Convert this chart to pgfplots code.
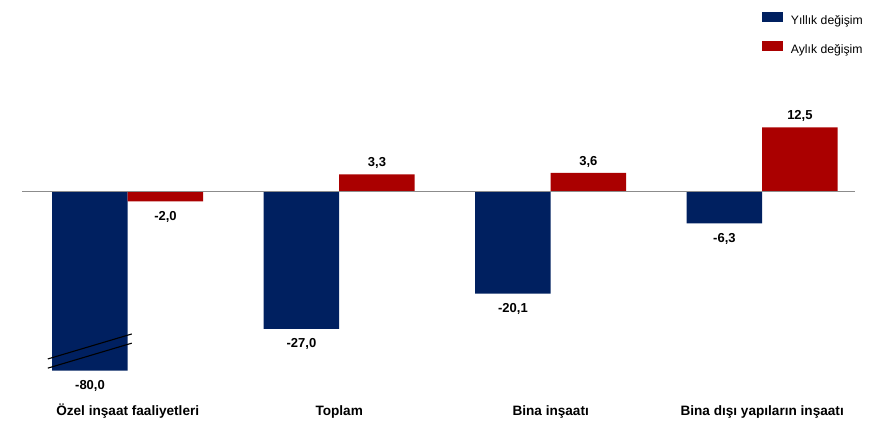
\documentclass[border=0pt]{standalone}
\usepackage{pgfplots}
\usepackage{pgfplotstable}
\pgfplotsset{compat=1.18}
\usepackage{fontspec}
\setmainfont{Liberation Sans}
\definecolor{navyb}{RGB}{0,32,96}
\definecolor{redb}{RGB}{170,0,0}
\pgfplotstableread{
x y
0 -80.0
1 -27.0
2 -20.1
3 -6.3
}\yillik
\pgfplotstableread{
x y
0 -2.0
1 3.3
2 3.6
3 12.5
}\aylik
\begin{document}
\begin{tikzpicture}[x=1pt,y=1pt]
\path[use as bounding box] (0,0) rectangle (876,425);
\begin{axis}[
  at={(22pt,54.3pt)}, anchor=south west,
  scale only axis, width=833pt, height=270.7pt,
  xmin=-0.5, xmax=3.439, ymin=-35.2, ymax=17.88,
  ybar=0pt, bar width=0.357,
  axis line style={draw=none}, major tick length=0pt, ytick=\empty,
  xtick={0,1,2,3},
  xticklabels={Özel inşaat faaliyetleri, Toplam, Bina inşaatı, Bina dışı yapıların inşaatı},
  xticklabel style={font=\fontsize{13.6}{15}\selectfont\bfseries, anchor=base, yshift=-45pt},
  clip=false,
  /pgf/number format/assume math mode=true,
  nodes near coords,
  point meta=\thisrow{y},
  visualization depends on={\thisrow{y} \as \rawy},
  nodes near coords style={font=\fontsize{13}{15}\selectfont\bfseries,
     anchor=\ifdim\rawy pt<0pt north\else south\fi,
     yshift=\ifdim\rawy pt<0pt -6.5pt\else 2pt\fi,
     /pgf/number format/.cd, fixed, fixed zerofill, precision=1, use comma, assume math mode=true},
  legend style={at={(0.888,1.326)}, anchor=north west, draw=none, fill=none,
     inner sep=0pt, row sep=15pt, column sep=8pt,
     font=\fontsize{12.2}{14}\selectfont, nodes={inner sep=0pt}},
  legend cell align=left,
  legend image code/.code={\fill[#1,draw=none] (0pt,-1pt) rectangle (21pt,9pt);},
]
\addplot[fill=navyb, draw=none] table[x=x, y expr={max(\thisrow{y},-35.2)}] {\yillik};
\addplot[fill=redb, draw=none] table[x=x, y=y] {\aylik};
\legend{Yıllık değişim, Aylık değişim}
\draw[gray!90, line width=1.3pt] (axis cs:-0.5,0) -- (axis cs:3.439,0);
\draw[black, line width=1.1pt] (axis cs:-0.378,-32.9) -- (axis cs:0.019,-28.0);
\draw[black, line width=1.1pt] (axis cs:-0.378,-34.7) -- (axis cs:0.019,-29.8);
\end{axis}
\end{tikzpicture}
\end{document}
